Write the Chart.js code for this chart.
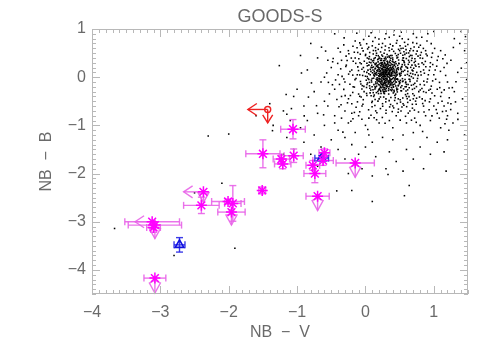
<!DOCTYPE html>
<html>
<head>
<meta charset="UTF-8">
<title>GOODS-S</title>
<script src="https://cdn.jsdelivr.net/npm/chart.js"></script>
<style>
  body { margin: 0; background: #fff; }
</style>
</head>
<body>
<canvas id="plot" width="496" height="354"></canvas>
<script>
// field galaxies (black dots)
const cloud = [
  [0.30,0.05],[0.25,0.10],[0.35,0.00],[0.28,-0.05],[0.40,0.12],[0.20,0.02],[0.33,0.18],[0.15,0.08],[0.45,-0.04],[0.38,-0.12],
  [0.22,-0.10],[0.27,0.22],[0.18,0.15],[0.42,0.25],[0.50,0.06],[0.12,-0.02],[0.31,-0.18],[0.36,0.30],[0.24,-0.22],[0.47,0.18],
  [0.55,-0.08],[0.08,0.12],[0.19,-0.15],[0.29,0.14],[0.34,0.08],[0.26,0.01],[0.41,-0.01],[0.21,0.06],[0.37,0.04],[0.32,-0.08],
  [0.17,0.25],[0.44,0.32],[0.53,0.22],[0.58,0.04],[0.05,-0.05],[0.10,0.20],[0.14,-0.20],[0.39,-0.25],[0.48,-0.18],[0.60,-0.15],
  [0.23,0.30],[0.30,0.38],[0.12,0.35],[0.02,0.10],[0.06,-0.18],[0.46,0.40],[0.57,0.30],[0.62,0.12],[0.65,-0.05],[0.52,-0.28],
  [0.28,-0.30],[0.16,-0.32],[0.34,-0.35],[0.43,-0.38],[0.08,0.30],[0.00,0.02],[-0.03,0.20],[0.20,0.42],[0.37,0.45],[0.55,0.40],
  [0.68,0.25],[0.70,-0.02],[0.64,-0.22],[0.45,0.10],[0.27,0.09],[0.33,0.26],[0.13,0.04],[0.24,0.17],[0.40,0.20],[0.50,-0.10],
  [0.18,-0.05],[0.36,-0.05],[0.29,-0.12],[0.43,0.03],[0.11,0.15],[0.26,-0.16],[0.49,0.28],[0.22,0.35],[0.05,0.25],[0.58,-0.20],
  [0.31,0.11],[0.27,-0.02],[0.35,0.15],[0.21,-0.03],[0.38,0.08],[0.16,0.10],[0.44,-0.10],[0.25,0.27],[0.32,0.33],[0.41,-0.20],
  [0.09,-0.10],[0.14,0.28],[0.53,0.12],[0.61,0.20],[0.47,-0.25],[0.19,0.38],[0.03,-0.12],[0.66,0.08],[0.56,0.34],[0.40,0.36],
  [0.29,0.20],[0.23,-0.08],[0.37,-0.15],[0.18,0.21],[0.34,-0.24],[0.46,0.04],[0.26,0.05],[0.31,-0.02],[0.39,0.16],[0.20,-0.25],
  [0.52,0.16],[0.15,-0.10],[0.42,-0.30],[0.07,0.05],[0.28,0.31],[0.59,-0.10],[0.35,0.41],[0.11,-0.26],[0.63,0.35],[0.48,0.47],
  [0.283,0.047],[0.312,0.091],[0.257,-0.034],[0.341,0.062],[0.226,0.128],[0.368,-0.071],[0.294,0.163],[0.203,-0.058],[0.417,0.041],[0.275,-0.114],
  [0.331,0.227],[0.188,0.079],[0.452,0.133],[0.236,0.254],[0.389,-0.163],[0.147,0.186],[0.472,-0.052],[0.304,-0.236],[0.263,0.341],[0.521,0.084],
  [0.174,-0.121],[0.356,0.118],[0.248,0.059],[0.319,-0.039],[0.401,0.087],[0.213,0.197],[0.287,-0.172],[0.438,0.214],[0.132,0.023],[0.378,0.273],
  [0.497,-0.137],[0.221,-0.187],[0.325,0.021],[0.269,0.116],[0.353,-0.104],[0.196,0.031],[0.411,-0.088],[0.242,-0.076],[0.306,0.265],[0.463,0.062],
  [0.158,-0.043],[0.384,0.189],[0.277,0.198],[0.229,0.091],[0.346,-0.197],[0.514,0.187],[0.103,0.091],[0.429,-0.142],[0.293,0.012],[0.362,0.352],
  [0.185,0.318],[0.541,-0.031],[0.252,-0.264],[0.317,0.138],[0.396,-0.031],[0.208,-0.094],[0.448,0.277],[0.271,0.072],[0.339,-0.141],[0.167,0.137],
  [0.574,0.143],[0.124,-0.154],[0.485,0.356],[0.236,0.383],[0.408,0.314],[0.301,-0.289],[0.587,-0.116],[0.071,0.164],[0.352,0.189],[0.281,-0.219],
  [0.193,-0.267],[0.456,-0.227],[0.327,0.306],[0.254,0.162],[0.419,0.151],[0.143,0.261],[0.506,0.023],[0.232,-0.147],[0.373,0.022],[0.291,0.098],
  [0.614,0.058],[0.049,0.071],[0.398,0.398],[0.212,0.283],[0.538,0.261],[0.267,-0.326],[0.443,-0.182],[0.087,-0.062],[0.364,-0.263],[0.179,0.364],
  [0.627,0.267],[0.117,0.212],[0.322,0.417],[0.491,-0.091],[0.246,0.013],[0.336,0.074],[0.203,0.153],[0.381,-0.046],[0.309,0.181],[0.259,-0.128],
  [0.567,0.317],[0.036,-0.027],[0.471,0.244],[0.139,-0.247],[0.418,-0.271],[0.289,0.236],[0.345,-0.071],[0.217,0.047],[0.394,0.124],[0.162,-0.186],
  [0.533,-0.178],[0.276,0.283],[0.302,-0.103],[0.428,0.093],[0.197,-0.024],[0.369,0.242],[0.243,0.221],[0.316,-0.162],[0.481,0.158],[0.129,0.124],
  [0.652,-0.087],[0.092,0.247],[0.558,-0.243],[0.224,-0.296],[0.351,0.318],[0.181,0.232],[0.407,-0.207],[0.264,-0.051],[0.333,0.158],[0.287,0.127],
  [0.511,-0.066],[0.153,0.058],[0.447,0.018],[0.218,-0.213],[0.376,0.161],[0.309,0.052],[0.233,0.174],[0.426,-0.037],[0.271,-0.246],[0.358,0.036],
  [0.683,0.147],[0.021,0.288],[0.598,0.387],[0.114,-0.321],[0.466,-0.306],[0.251,0.436],[0.389,0.451],[0.547,0.456],[0.672,-0.168],[-0.018,0.117],
  [0.262,0.083],[0.318,0.024],[0.291,-0.067],[0.347,0.133],[0.238,-0.012],[0.383,0.057],[0.209,0.113],[0.357,-0.026],[0.271,0.154],[0.432,-0.063],
  [0.186,-0.082],[0.403,0.223],[0.249,-0.183],[0.326,0.281],[0.168,0.046],[0.461,0.107],[0.297,-0.143],[0.223,0.237],[0.379,-0.214],[0.517,0.041],
  [0.139,0.171],[0.336,-0.277],[0.284,0.352],[0.482,-0.168],[0.207,-0.238],[0.424,0.298],[0.153,-0.136],[0.529,0.213],[0.247,0.301],[0.366,0.207],
  [0.311,-0.057],[0.273,0.029],[0.342,0.104],[0.228,-0.043],[0.397,-0.117],[0.191,0.196],[0.452,-0.102],[0.263,-0.207],[0.318,0.208],[0.381,0.092],
  [0.297,0.071],[0.256,0.131],[0.353,0.052],[0.214,0.018],[0.412,0.176],[0.279,-0.091],[0.332,-0.118],[0.237,0.068],[0.367,0.138],[0.303,0.147],
  [0.171,-0.014],[0.441,0.068],[0.289,0.273],[0.226,-0.124],[0.348,0.247],[0.196,0.262],[0.478,0.197],[0.261,-0.293],[0.407,-0.157],[0.131,0.083],
  [0.553,0.118],[0.098,-0.027],[0.517,-0.212],[0.181,-0.297],[0.372,0.393],[0.231,0.347],[0.579,-0.047],[0.118,0.306],[0.459,-0.263],[0.293,0.416],
  [0.324,-0.199],[0.266,0.207],[0.396,0.261],[0.203,-0.162],[0.437,-0.013],[0.252,0.093],[0.361,-0.141],[0.282,0.011],[0.329,0.173],[0.243,-0.098],
  [0.488,0.291],[0.147,-0.217],[0.542,0.352],[0.211,0.391],[0.616,0.187],[0.083,0.203],[0.597,-0.198],[0.161,0.226],[0.503,-0.114],[0.059,-0.108],
  [0.312,0.121],[0.274,-0.137],[0.356,0.086],[0.219,0.136],[0.389,0.032],[0.296,-0.028],[0.248,0.186],[0.341,-0.083],[0.263,0.249],[0.418,0.117],
  [0.324,0.059],[0.286,0.108],[0.237,0.041],[0.371,-0.093],[0.307,-0.197],[0.183,0.124],[0.453,0.168],[0.219,-0.271],[0.392,0.327],[0.158,0.292],
  [0.641,0.031],[0.037,0.147],[0.574,0.254],[0.097,-0.197],[0.527,-0.283],[0.278,-0.342],[0.346,0.437],[0.143,0.403],[0.624,-0.152],[0.012,-0.063],
  [0.472,0.412],[0.191,-0.341],[0.407,-0.327],[0.662,0.204],[0.027,0.236],[0.556,0.402],[0.239,0.461],[0.442,-0.352],[0.083,0.367],[0.693,0.067],
  [0.331,0.002],[0.268,0.052],[0.304,0.234],[0.251,-0.155],[0.374,0.171],[0.214,0.071],[0.426,0.249],[0.287,-0.258],[0.359,-0.173],[0.197,0.168],
  [0.318,0.327],[0.233,0.283],[0.497,0.079],[0.169,-0.067],[0.468,-0.033],[0.121,0.047],[0.542,-0.092],[0.276,0.387],[0.384,-0.281],[0.228,-0.337],
  [-0.052,0.163],[-0.138,-0.027],[0.027,0.398],[0.083,-0.387],[0.162,0.497],[0.286,0.563],[0.437,0.492],[0.563,0.527],[0.682,0.393],[0.739,0.226],
  [0.771,0.037],[0.717,-0.233],[0.637,-0.404],[0.508,-0.467],[0.372,-0.423],[0.219,-0.412],[0.068,-0.326],[-0.023,-0.191],[-0.084,0.047],[-0.061,0.278],
  [0.003,0.473],[0.116,0.553],[0.237,0.617],[0.363,0.683],[0.521,0.597],[0.648,0.548],[0.769,0.437],[0.828,0.297],[0.862,0.083],[0.853,-0.083],
  [0.801,-0.268],[0.733,-0.497],[0.562,-0.583],[0.413,-0.637],[0.252,-0.603],[0.093,-0.527],[-0.084,-0.397],[-0.162,-0.206],[-0.227,0.118],[-0.179,0.331],
  [-0.113,0.513],[0.032,0.587],[0.197,0.683],[0.572,0.723],[0.712,0.628],[0.903,0.447],[0.946,0.218],[0.983,-0.077],[0.927,-0.273],[0.873,-0.487],
  [0.686,-0.563],[0.478,-0.726],[0.167,-0.738],[-0.037,-0.561],[-0.248,-0.448],[-0.316,-0.037],[-0.287,0.222],[-0.243,0.486],[-0.071,0.667],[0.143,0.822],
  [0.538,0.798],[0.847,0.597],[1.064,0.428],[1.113,-0.317],[1.036,-0.673],[0.857,-0.723],[0.626,-0.746],[0.302,-0.687],[-0.052,-0.873],[-0.357,-0.573],
  [-0.483,-0.157],[-0.406,0.286],[-0.183,0.643],[0.083,0.923],[0.523,0.932],[0.962,0.697],[1.193,0.287],[1.207,-0.537],[1.163,-0.967],[0.743,-0.937],
  [0.694,0.131],[0.617,-0.263],[0.592,0.216],[0.026,0.012],[0.064,-0.231],[0.641,0.312],[0.102,0.338],[0.513,0.497],[0.436,-0.427],[0.129,-0.371],
  [0.703,-0.153],[0.022,-0.152],[0.658,0.453],[0.187,0.447],[0.317,0.472],[0.456,0.446],[0.611,-0.446],[0.267,-0.412],[0.058,0.311],[0.727,0.252],
  [-0.20,0.15],[-0.30,-0.10],[-0.15,0.40],[-0.25,0.55],[-0.40,0.05],[-0.10,-0.35],[-0.35,-0.40],[-0.05,0.60],[0.10,0.65],[0.25,0.70],
  [0.40,0.65],[0.55,0.60],[0.70,0.55],[0.80,0.40],[0.85,0.15],[0.90,-0.10],[0.78,-0.30],[0.70,-0.45],[0.55,-0.55],[0.40,-0.60],
  [0.25,-0.55],[0.10,-0.50],[-0.05,-0.60],[-0.20,-0.55],[0.00,0.45],[0.60,0.50],[0.75,0.70],[0.95,0.30],[1.00,0.05],[1.05,-0.25],
  [0.95,-0.45],[0.85,-0.60],[0.65,-0.70],[0.45,-0.80],[0.30,-0.75],[0.15,-0.70],[-0.10,-0.80],[-0.30,-0.70],[-0.45,-0.25],[-0.50,0.20],
  [-0.35,0.35],[-0.15,0.75],[0.05,0.85],[0.30,0.90],[0.50,0.85],[0.70,0.90],[0.90,0.75],[1.10,0.55],[1.15,0.20],[1.20,-0.10],
  [1.10,-0.40],[1.15,-0.60],[1.20,-0.80],[1.05,-0.75],[0.95,-0.90],[0.80,-1.00],[0.60,-0.95],[0.40,-1.05],[0.20,-0.95],[0.00,-1.00],
  [-0.25,-0.95],[-0.45,-0.80],[-0.60,-0.50],[-0.65,-0.10],[-0.55,0.35],[-0.40,0.60],[1.25,0.35],[1.30,-0.30],[1.25,-0.55],[1.28,-0.95],
  [1.22,-1.10],[1.10,-1.05],[1.18,-0.70],[1.08,-0.85],[1.12,-0.50],[1.00,-0.60],[0.88,-0.80],[0.72,-0.85],[0.52,-0.70],[0.35,-0.90],
  [-0.08,0.30],[-0.18,-0.20],[0.75,0.10],[0.80,-0.15],[0.68,0.45],[0.50,0.55],[0.15,0.55],[-0.02,-0.30],[0.12,-0.40],[0.60,-0.40],
  [0.88,0.55],[0.98,0.50],[1.05,0.35],[0.92,0.05],[0.83,-0.45],[-0.28,0.25],[-0.12,0.05],[-0.38,-0.15],[0.20,-0.45],[0.48,-0.45],
  [0.73,0.33],[0.85,-0.30],[0.62,0.68],[0.35,0.55],[0.05,0.38],[-0.22,-0.38],[0.30,-0.45],[0.78,0.62],[0.95,-0.25],[1.02,0.15],
  [1.40,0.95],[1.45,0.55],[1.35,0.10],[1.42,-0.45],[0.60,1.00],[0.20,1.00],[-0.45,0.90],[-0.70,0.40],[-0.85,0.15],[-0.75,-0.30],
  [-0.90,-0.60],[-1.00,-0.25],[-0.80,0.70],[1.38,0.70],[1.48,-0.05],
  [-0.112,0.214],[-0.067,-0.143],[0.723,0.384],[0.784,0.218],[0.746,-0.196],[0.814,0.047],[0.693,-0.342],[-0.153,-0.051],[0.062,0.512],[0.187,0.578],
  [0.344,0.612],[0.506,0.654],[0.662,0.592],[0.817,0.514],[0.876,0.327],[0.934,0.142],[0.862,-0.162],[0.791,-0.412],[0.618,-0.523],[0.463,-0.547],
  [0.297,-0.512],[0.138,-0.586],[-0.032,-0.467],[-0.186,-0.317],[-0.246,0.064],[-0.207,0.397],[-0.076,0.478],[0.021,-0.379],[0.077,-0.268],[0.586,-0.362],
  [0.728,0.052],[0.642,0.427],[0.413,0.536],[0.157,0.452],[-0.041,0.036],[0.754,-0.078],[0.706,0.186],[0.593,-0.287],[0.016,-0.214],[-0.097,0.382],
  [0.836,0.391],[0.908,-0.038],[0.887,-0.317],[0.742,-0.562],[0.534,-0.618],[0.392,-0.714],[0.219,-0.652],[0.046,-0.677],[-0.137,-0.624],[-0.317,-0.253],
  [-0.362,0.173],[-0.283,0.437],[-0.123,0.612],[0.107,0.743],[0.284,0.797],[0.462,0.763],[0.627,0.786],[0.803,0.663],[0.967,0.412],[1.042,0.228],
  [1.083,-0.108],[1.012,-0.386],[0.931,-0.674],[0.776,-0.723],[0.586,-0.812],[0.247,-0.836],[0.081,-0.791],[-0.084,-0.718],[-0.263,-0.532],[-0.418,-0.462],
  [-0.472,0.386],[-0.317,0.671],[0.018,0.694],[0.417,0.874],[0.824,0.827],[1.132,0.384],[1.173,0.036],[1.152,-0.263],[1.226,-0.428],[1.187,-0.872],
  [1.247,-0.672],[1.271,-0.217],[1.063,-0.536],[0.973,-0.803],[0.687,-0.643],[0.508,-0.891],[0.163,-0.883],[-0.183,-0.862],[-0.542,-0.108],[-0.583,0.542],
  [0.672,0.012],[0.546,-0.432],[0.126,0.386],[0.273,0.497],[0.742,0.483],[0.883,0.218],[-0.052,-0.247],[0.963,-0.186],[0.354,-0.617],[0.594,0.572],
  [-0.073,-0.089],[-0.142,0.287],[0.713,0.303],[0.762,-0.027],[0.687,-0.253],[-0.034,0.546],[0.147,0.612],[0.387,0.578],[0.586,0.642],[0.756,0.541],
  [0.851,0.264],[0.826,-0.236],[0.653,-0.477],[0.427,-0.483],[0.183,-0.497],[-0.063,-0.413],[-0.227,-0.146],[-0.268,0.346],[0.714,-0.381],[0.808,0.114],
  [0.632,0.503],[0.292,0.646],[0.047,0.621],[-0.163,0.518],[-0.342,0.017],[-0.297,-0.383],[-0.117,-0.512],[0.097,-0.614],[0.368,-0.567],[0.603,-0.612],
  [0.837,-0.547],[0.973,-0.327],[1.027,-0.043],[0.984,0.262],[0.887,0.482],[0.693,0.717],[0.453,0.706],[0.197,0.792],[-0.083,0.712],[-0.367,0.523],
  [-0.437,-0.057],[-0.387,-0.613],[-0.162,-0.732],[0.127,-0.843],[0.482,-0.663],[0.716,-0.683],[0.936,-0.512],[1.087,-0.217],[1.097,0.121],[1.012,0.597],
  [0.747,0.824],[0.348,0.827],[-0.027,0.782],[-0.312,0.816],[-0.567,0.087],[-0.527,-0.347],[-0.213,-0.913],[0.287,-0.957],[0.673,-0.892],[1.127,-0.713],
  [1.223,-0.226],[1.167,0.462],[0.912,0.903],[0.417,0.967],[-0.127,0.913],[-0.643,0.623],[-0.716,-0.592],[0.034,-1.087],[0.836,-1.127],[1.317,-0.513],
  [0.058,0.427],[0.638,-0.043],[0.576,0.473],[0.016,-0.337],[0.722,-0.127],[-0.017,0.331],[0.674,0.347],[0.141,-0.463],[0.513,-0.517],[-0.102,0.137],
  [0.776,0.273],[0.748,-0.437],[0.221,0.524],[0.484,0.578],[-0.046,-0.176],[0.617,-0.341],[0.803,0.457],[0.347,-0.486],[0.114,0.482],[-0.186,0.043],
  [1.352,-0.876],[1.402,0.187],[1.463,0.842],[1.286,0.617],[1.324,-0.093],[-0.896,-0.803],[-1.083,-0.652],[-0.612,-0.782],[-0.834,-0.413],[-0.936,0.087],
  [-0.55,-0.60],[-0.70,-0.75],[-0.85,-0.90],[-0.60,-1.00],[-0.40,-1.10],[-0.95,-1.05],[-1.10,-0.90],[-1.20,-0.70],[-0.75,-1.20],[-0.50,-1.30],
  [-0.30,-1.25],[-0.15,-1.15],[0.05,-1.20],[-0.90,-1.35],[-1.05,-1.50],[-0.65,-1.45],[-0.40,-1.50],[-0.20,-1.40],[0.00,-1.45],[-0.80,-1.60],
  [-0.55,-1.65],[-0.30,-1.70],[-0.10,-1.60],[0.10,-1.35],[0.25,-1.25],[0.40,-1.30],[0.55,-1.20],[0.70,-1.15],[0.90,-1.25],[1.05,-1.35],
  [1.20,-1.30],[0.80,-1.45],[0.60,-1.50],[0.35,-1.55],[0.15,-1.65],[0.45,-1.75],[0.70,-1.70],[0.95,-1.60],[1.15,-1.55],[0.30,-1.90],
  [0.55,-1.95],[0.85,-1.90],[1.18,-1.95],[0.33,-2.02],[0.10,-2.05],[-0.05,-1.90],[-0.25,-2.00],[-0.42,-2.36],[-0.20,-2.35],[0.10,-2.58],
  [0.57,-2.46],[0.64,-2.25],[-1.26,0.24],[-2.30,-1.22],[-2.00,-1.18],[-3.67,-3.14],[-1.91,-3.55],[-1.60,-0.80],[-1.35,-1.00],[-1.15,-1.25],
  [-1.40,-0.55],[-1.05,-0.40],[-0.95,0.45],[-1.20,-1.60],[-0.70,-1.85],[-2.50,-2.40],[-2.80,-3.70],[-2.10,-2.20],[-0.45,-0.95],[-0.35,-0.85],
  [-0.20,-0.75],[0.05,-0.85],[1.45,-1.20],[1.35,-0.75],[1.48,0.30],[1.30,0.80],[1.00,0.95],
  [-0.79,-0.12],[-0.60,0.00],[-0.48,0.32],[-1.16,-0.36],[-1.15,-0.77],[-1.36,-1.11],[-0.33,-1.14]
];

// magenta emitters (asterisks)
const lyaX    = [-1.06,-1.50,-1.23,-1.21,-1.05,-0.60,-0.62,-0.77,-0.74,-0.15,-0.70,-1.51,-2.37,-2.40,-2.01,-1.94,-1.96,-3.12,-3.08,-3.10,-3.08];
const lyaY    = [-1.08,-1.59,-1.70,-1.80,-1.63,-1.57,-1.73,-1.83,-2.00,-1.78,-2.47,-2.35,-2.38,-2.66,-2.58,-2.62,-2.80,-3.00,-3.07,-3.12,-4.17];
const lyaXErr = [0.18,0.25,0.12,0.12,0.14,0.08,0.15,0.10,0.16,0.28,0.17,0.05,0,0.26,0.24,0.12,0.20,0.40,0.39,0.10,0.16];
const lyaYErr = [0.20,0.29,0.08,0.10,0.14,0.08,0.10,0.10,0.19,0,0,0.07,0,0.17,0.05,0.37,0.05,0,0,0.10,0];
const lyaDown = [null,null,null,null,null,null,null,null,null,-2.08,-2.77,null,-2.60,null,null,null,-3.07,null,-3.35,null,-4.48];
const lyaLeft = [null,null,null,null,null,null,null,null,null,null,null,null,-2.66,null,null,null,null,-3.37,null,null,null];

// blue triangles
const blueX    = [-2.72,-0.64];
const blueY    = [-3.48,-1.68];
const blueXErr = [0.08,0.10];
const blueYErr = [0.15,0.05];

// red limit
const redX    = [-1.43];
const redY    = [-0.67];
const redDown = [-0.95];
const redLeft = [-1.72];

const groups = [
  { x: lyaX, y: lyaY, xe: lyaXErr, ye: lyaYErr, down: lyaDown, left: lyaLeft, color: 'rgba(232,100,232,0.9)', kite: true },
  { x: blueX, y: blueY, xe: blueXErr, ye: blueYErr, color: 'rgba(40,40,230,0.9)' },
  { x: redX, y: redY, down: redDown, left: redLeft, color: '#ee2222', kite: false }
];

const textColor = '#6a6a6a';
const axisColor = '#b8b8b8';
const fontFamily = "'Liberation Sans', Arial, sans-serif";

function pts(xs, ys) { return xs.map((v, i) => ({ x: v, y: ys[i] })); }
function minusLabel(v) {
  if (Math.abs(v - Math.round(v)) > 1e-6) return '';
  return v < 0 ? '\u2212' + Math.abs(v) : String(v);
}

// error bars and limit arrows, drawn right after the dot cloud
const errorBars = {
  id: 'errorBars',
  afterDatasetDraw(chart, args) {
    if (args.index !== 3) return;
    const ctx = chart.ctx, sx = chart.scales.x, sy = chart.scales.y;
    const seg = (a, b, c, d) => { ctx.beginPath(); ctx.moveTo(a, b); ctx.lineTo(c, d); ctx.stroke(); };
    ctx.save();
    ctx.lineWidth = 1.4;
    groups.forEach(g => {
      ctx.strokeStyle = g.color;
      for (let i = 0; i < g.x.length; i++) {
        const px = sx.getPixelForValue(g.x[i]);
        const py = sy.getPixelForValue(g.y[i]);
        if (g.xe && g.xe[i]) {
          const a = sx.getPixelForValue(g.x[i] - g.xe[i]);
          const b = sx.getPixelForValue(g.x[i] + g.xe[i]);
          seg(a, py, b, py); seg(a, py - 3.5, a, py + 3.5); seg(b, py - 3.5, b, py + 3.5);
        }
        if (g.ye && g.ye[i]) {
          const a = sy.getPixelForValue(g.y[i] - g.ye[i]);
          const b = sy.getPixelForValue(g.y[i] + g.ye[i]);
          seg(px, a, px, b); seg(px - 3.5, a, px + 3.5, a); seg(px - 3.5, b, px + 3.5, b);
        }
        if (g.down && g.down[i] != null) {
          const t = sy.getPixelForValue(g.down[i]);
          seg(px, py, px, t);
          if (g.kite) {
            ctx.beginPath();
            ctx.moveTo(px, py + 2);
            ctx.lineTo(px - 5.5, t - 10);
            ctx.lineTo(px, t);
            ctx.lineTo(px + 5.5, t - 10);
            ctx.closePath();
            ctx.stroke();
          } else {
            ctx.beginPath();
            ctx.moveTo(px - 5, t - 8); ctx.lineTo(px, t); ctx.lineTo(px + 5, t - 8);
            ctx.stroke();
          }
        }
        if (g.left && g.left[i] != null) {
          const t = sx.getPixelForValue(g.left[i]);
          seg(px, py, t, py);
          ctx.beginPath();
          ctx.moveTo(t + 9, py - 6); ctx.lineTo(t, py); ctx.lineTo(t + 9, py + 6);
          ctx.stroke();
        }
      }
    });
    ctx.restore();
  }
};

// IDL style box: inward ticks on all four sides, plus the title
const boxAxes = {
  id: 'boxAxes',
  afterDraw(chart) {
    const ctx = chart.ctx, a = chart.chartArea, sx = chart.scales.x, sy = chart.scales.y;
    ctx.save();
    ctx.strokeStyle = axisColor;
    ctx.lineWidth = 1;
    ctx.strokeRect(a.left + 0.5, a.top + 0.5, a.right - a.left - 1, a.bottom - a.top - 1);
    ctx.beginPath();
    for (let i = -40; i <= 15; i++) {
      const p = Math.round(sx.getPixelForValue(i / 10)) + 0.5;
      const len = i % 10 === 0 ? 8 : 4;
      ctx.moveTo(p, a.bottom); ctx.lineTo(p, a.bottom - len);
      ctx.moveTo(p, a.top); ctx.lineTo(p, a.top + len);
    }
    for (let i = -45; i <= 10; i++) {
      const p = Math.round(sy.getPixelForValue(i / 10)) + 0.5;
      const len = i % 10 === 0 ? 8 : 4;
      ctx.moveTo(a.left, p); ctx.lineTo(a.left + len, p);
      ctx.moveTo(a.right, p); ctx.lineTo(a.right - len, p);
    }
    ctx.stroke();
    ctx.fillStyle = textColor;
    ctx.font = '18px ' + fontFamily;
    ctx.textAlign = 'center';
    ctx.textBaseline = 'middle';
    ctx.fillText('GOODS-S', (a.left + a.right) / 2, 17);
    ctx.restore();
  }
};

new Chart(document.getElementById('plot'), {
  type: 'scatter',
  data: {
    datasets: [
      {
        label: 'LAE',
        data: pts(lyaX, lyaY),
        pointStyle: 'star',
        pointRadius: 5.5,
        borderColor: '#ff00ff',
        borderWidth: 1.5,
        backgroundColor: '#ff00ff'
      },
      {
        label: 'blue',
        data: pts(blueX, blueY),
        pointStyle: 'triangle',
        pointRadius: 5,
        borderColor: '#1010e0',
        borderWidth: 1.6,
        backgroundColor: 'rgba(0,0,0,0)'
      },
      {
        label: 'red',
        data: pts(redX, redY),
        pointStyle: 'circle',
        pointRadius: 3,
        borderColor: '#ee2222',
        borderWidth: 1.4,
        backgroundColor: 'rgba(0,0,0,0)'
      },
      {
        label: 'field',
        data: cloud.map(p => ({ x: p[0], y: p[1] })),
        pointStyle: 'rect',
        pointRadius: 1.1,
        borderWidth: 0,
        backgroundColor: '#000'
      }
    ]
  },
  options: {
    responsive: false,
    animation: false,
    events: [],
    layout: { padding: { top: 29, right: 28, left: 0, bottom: 0 } },
    plugins: {
      legend: { display: false },
      tooltip: { enabled: false },
      title: { display: false }
    },
    scales: {
      x: {
        type: 'linear',
        position: 'bottom',
        min: -4,
        max: 1.5,
        grid: { display: false, drawTicks: false },
        border: { display: false },
        ticks: {
          stepSize: 1,
          includeBounds: false,
          maxRotation: 0,
          padding: 9,
          color: textColor,
          font: { family: fontFamily, size: 16 },
          callback: minusLabel
        },
        title: {
          display: true,
          text: 'NB  \u2212  V',
          color: textColor,
          font: { family: fontFamily, size: 16 },
          padding: { top: 0, bottom: 12 }
        },
        afterFit(s) { s.height = 60; }
      },
      y: {
        type: 'linear',
        position: 'left',
        min: -4.5,
        max: 1,
        grid: { display: false, drawTicks: false },
        border: { display: false },
        ticks: {
          stepSize: 1,
          includeBounds: false,
          padding: 6,
          color: textColor,
          font: { family: fontFamily, size: 16 },
          callback: minusLabel
        },
        title: {
          display: true,
          text: 'NB  \u2212  B',
          color: textColor,
          font: { family: fontFamily, size: 16 },
          padding: { top: 37, bottom: 0 }
        },
        afterFit(s) { s.width = 92; }
      }
    }
  },
  plugins: [errorBars, boxAxes]
});
</script>
</body>
</html>
